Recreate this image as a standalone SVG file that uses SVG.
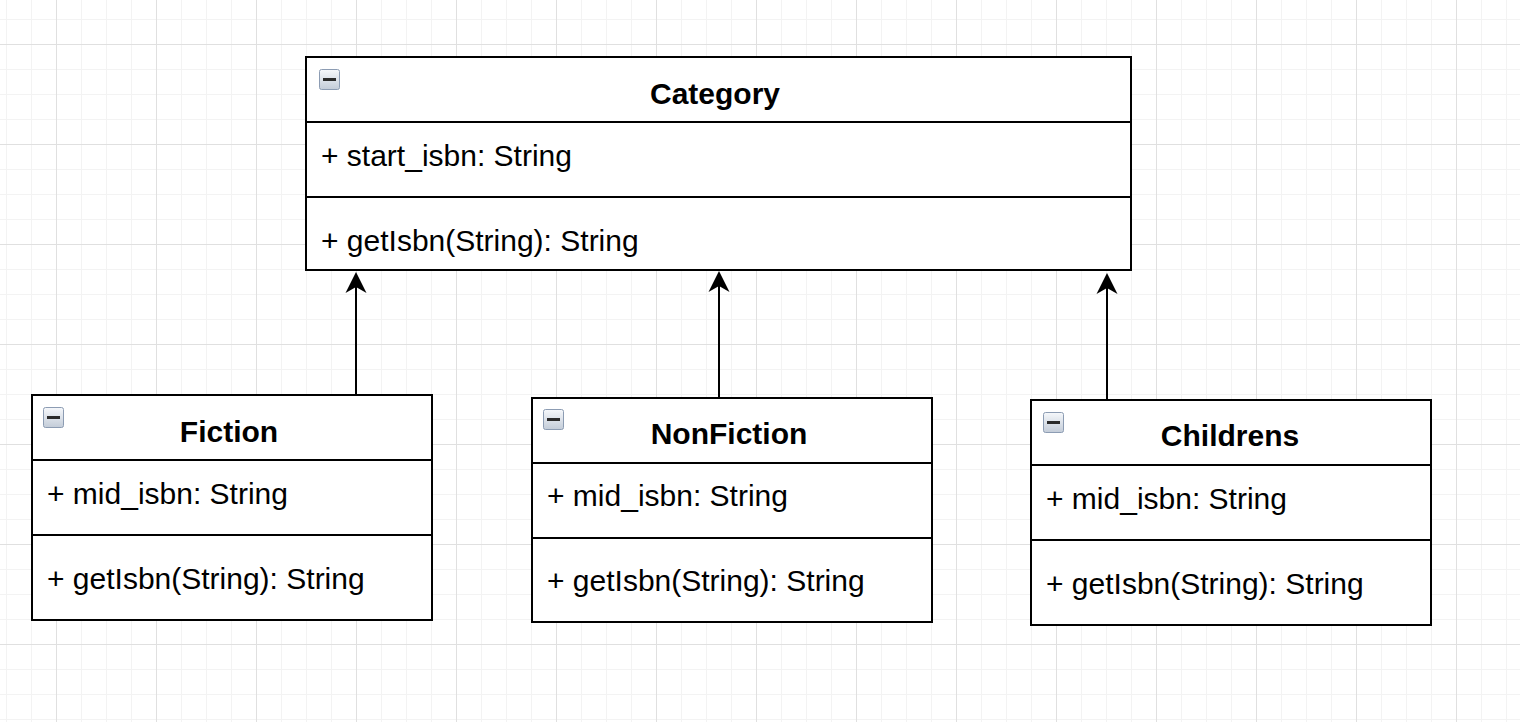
<svg xmlns="http://www.w3.org/2000/svg" width="1520" height="722" viewBox="0 0 1520 722">
<style>
.box{fill:#fff;stroke:#000;stroke-width:2}
.div{stroke:#000;stroke-width:2}
.title{font-family:"Liberation Sans",Arial,sans-serif;font-weight:bold;font-size:30px;fill:#000;text-anchor:middle}
.mem{font-family:"Liberation Sans",Arial,sans-serif;font-size:30px;fill:#000}
.conn{stroke:#000;stroke-width:2;fill:none;marker-end:url(#arrow)}
.ico{fill:url(#icog);stroke:#8c9cb3;stroke-width:1}
.icobar{fill:#2b2b2b}
</style>
<defs>
<pattern id="minor" x="6" y="19" width="25" height="25" patternUnits="userSpaceOnUse">
<path d="M0.5 0V25M0 0.5H25" stroke="#f3f3f3" stroke-width="1" fill="none"/>
</pattern>
<pattern id="major" x="56" y="44" width="100" height="100" patternUnits="userSpaceOnUse">
<path d="M0.5 0V100M0 0.5H100" stroke="#e0e0e0" stroke-width="1" fill="none"/>
</pattern>
<linearGradient id="icog" x1="0" y1="0" x2="0" y2="1">
<stop offset="0" stop-color="#f6f8fb"/>
<stop offset="1" stop-color="#c3ccd8"/>
</linearGradient>
<marker id="arrow" viewBox="0 0 21 22" markerWidth="21" markerHeight="22" markerUnits="userSpaceOnUse" refX="6" refY="11" orient="auto">
<path d="M0 0.5L21 11L0 21.5L6 11Z" fill="#000"/>
</marker>
<g id="icon">
<rect class="ico" x="0.5" y="0.5" width="20" height="20" rx="2"/>
<rect class="icobar" x="4" y="9" width="13" height="3"/>
</g>
</defs>
<rect x="0" y="0" width="1520" height="722" fill="#fff"/>
<rect x="0" y="0" width="1520" height="722" fill="url(#minor)"/>
<rect x="0" y="0" width="1520" height="722" fill="url(#major)"/>

<g id="connectors">
<path class="conn" d="M356 395V287"/>
<path class="conn" d="M719 398V286"/>
<path class="conn" d="M1107 400V288"/>
</g>

<g id="category">
<rect class="box" x="306" y="57" width="825" height="213"/>
<line class="div" x1="306" y1="122" x2="1131" y2="122"/>
<line class="div" x1="306" y1="197" x2="1131" y2="197"/>
<use href="#icon" x="319" y="69"/>
<text class="title" x="715" y="104">Category</text>
<text class="mem" x="321" y="166">+ start_isbn: String</text>
<text class="mem" x="321" y="251">+ getIsbn(String): String</text>
</g>

<g id="fiction">
<rect class="box" x="32" y="395" width="400" height="225"/>
<line class="div" x1="32" y1="460" x2="432" y2="460"/>
<line class="div" x1="32" y1="535" x2="432" y2="535"/>
<use href="#icon" x="43" y="407"/>
<text class="title" x="229" y="442">Fiction</text>
<text class="mem" x="47" y="504">+ mid_isbn: String</text>
<text class="mem" x="47" y="589">+ getIsbn(String): String</text>
</g>

<g id="nonfiction">
<rect class="box" x="532" y="398" width="400" height="224"/>
<line class="div" x1="532" y1="463" x2="932" y2="463"/>
<line class="div" x1="532" y1="538" x2="932" y2="538"/>
<use href="#icon" x="543" y="409"/>
<text class="title" x="729" y="444">NonFiction</text>
<text class="mem" x="547" y="506">+ mid_isbn: String</text>
<text class="mem" x="547" y="591">+ getIsbn(String): String</text>
</g>

<g id="childrens">
<rect class="box" x="1031" y="400" width="400" height="225"/>
<line class="div" x1="1031" y1="465" x2="1431" y2="465"/>
<line class="div" x1="1031" y1="540" x2="1431" y2="540"/>
<use href="#icon" x="1043" y="412"/>
<text class="title" x="1230" y="446">Childrens</text>
<text class="mem" x="1046" y="509">+ mid_isbn: String</text>
<text class="mem" x="1046" y="594">+ getIsbn(String): String</text>
</g>
</svg>
